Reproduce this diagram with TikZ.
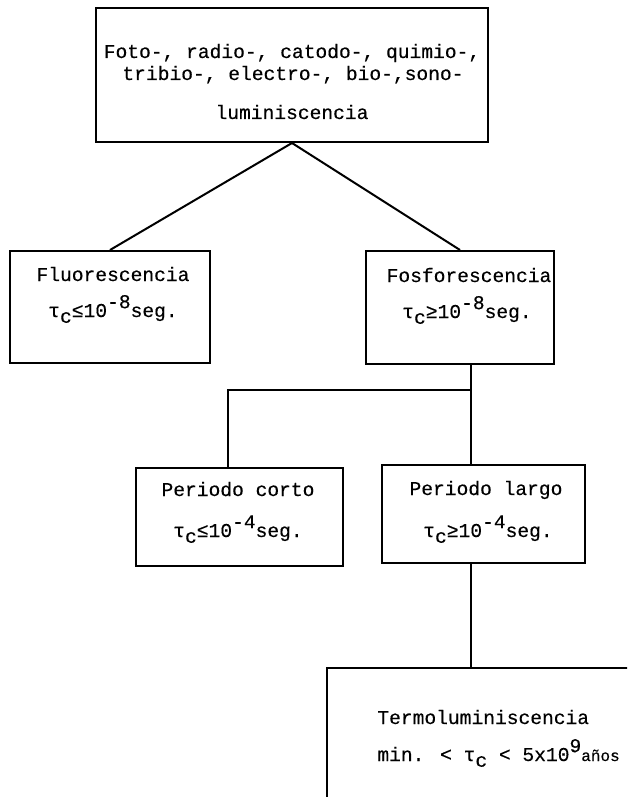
\documentclass[tikz,border=0pt]{standalone}
\usepackage{fontspec}
\newfontfamily\tw[FakeBold=0.35]{Liberation Mono}
\newcommand\lo[1]{\raisebox{-0.55ex}{#1}}
\newcommand\hi[1]{\raisebox{0.85ex}{#1}}
\tikzset{
  box/.style={draw, line width=1pt, inner sep=0pt},
  txt/.style={font=\tw\fontsize{9.8}{11}\selectfont, inner sep=0pt, anchor=base},
  wire/.style={line width=1pt}
}
\begin{document}
\begin{tikzpicture}[x=0.5pt,y=-0.5pt]
        \clip (0,0) rectangle (627,797);

        % boxes
        \node[box, minimum width=196pt, minimum height=67pt] (lum) at (292,75) {};
        \node[box, minimum width=100pt, minimum height=56pt] (fluo) at (110,307) {};
        \node[box, minimum width=94pt, minimum height=56.5pt] (fosfo) at (460,307.5) {};
        \node[box, minimum width=103.5pt, minimum height=49pt] (corto) at (239.5,517) {};
        \node[box, minimum width=101.5pt, minimum height=49pt] (largo) at (483.5,514) {};
        \node[box, minimum width=196.5pt, minimum height=116pt] (termo) at (523.5,784) {};

        % texts
        \node[txt] (lumA) at (292,58) {Foto-, radio-, catodo-, quimio-,};
        \node[txt] (lumB) at (293,80) {tribio-, electro-, bio-,sono-};
        \node[txt] (lumC) at (292,119) {luminiscencia};
        \node[txt] (fluoA) at (113,281) {Fluorescencia};
        \node[txt] (fluoB) at (113,317) {τ\lo{c}≤10\hi{-8}seg.};
        \node[txt] (fosfoA) at (469,282) {Fosforescencia};
        \node[txt] (fosfoB) at (467,318) {τ\lo{c}≥10\hi{-8}seg.};
        \node[txt] (cortoA) at (238,496) {Periodo corto};
        \node[txt] (cortoB) at (238,537) {τ\lo{c}≤10\hi{-4}seg.};
        \node[txt] (largoA) at (486,495) {Periodo largo};
        \node[txt] (largoB) at (488,537) {τ\lo{c}≥10\hi{-4}seg.};
        \node[txt, anchor=base west] (termoA) at (377,724) {Termoluminiscencia};
        \node[txt, anchor=base west] (termoB) at (377,761) {min. < τ\lo{c} < 5x10\hi{9}{\fontsize{8}{9}\selectfont años}};

        % connectors
        \coordinate (j) at (471,390);
        \coordinate (k) at (228,390);
        \draw[wire] (lum.south) -- (fluo.north);
        \draw[wire] (lum.south) -- (fosfo.north);
        \draw[wire] (j |- fosfo.south) -- (j |- largo.north);
        \draw[wire] (j) -- (k) -- (k |- corto.north);
        \draw[wire] (j |- largo.south) -- (j |- termo.north);
    \end{tikzpicture}
\end{document}
